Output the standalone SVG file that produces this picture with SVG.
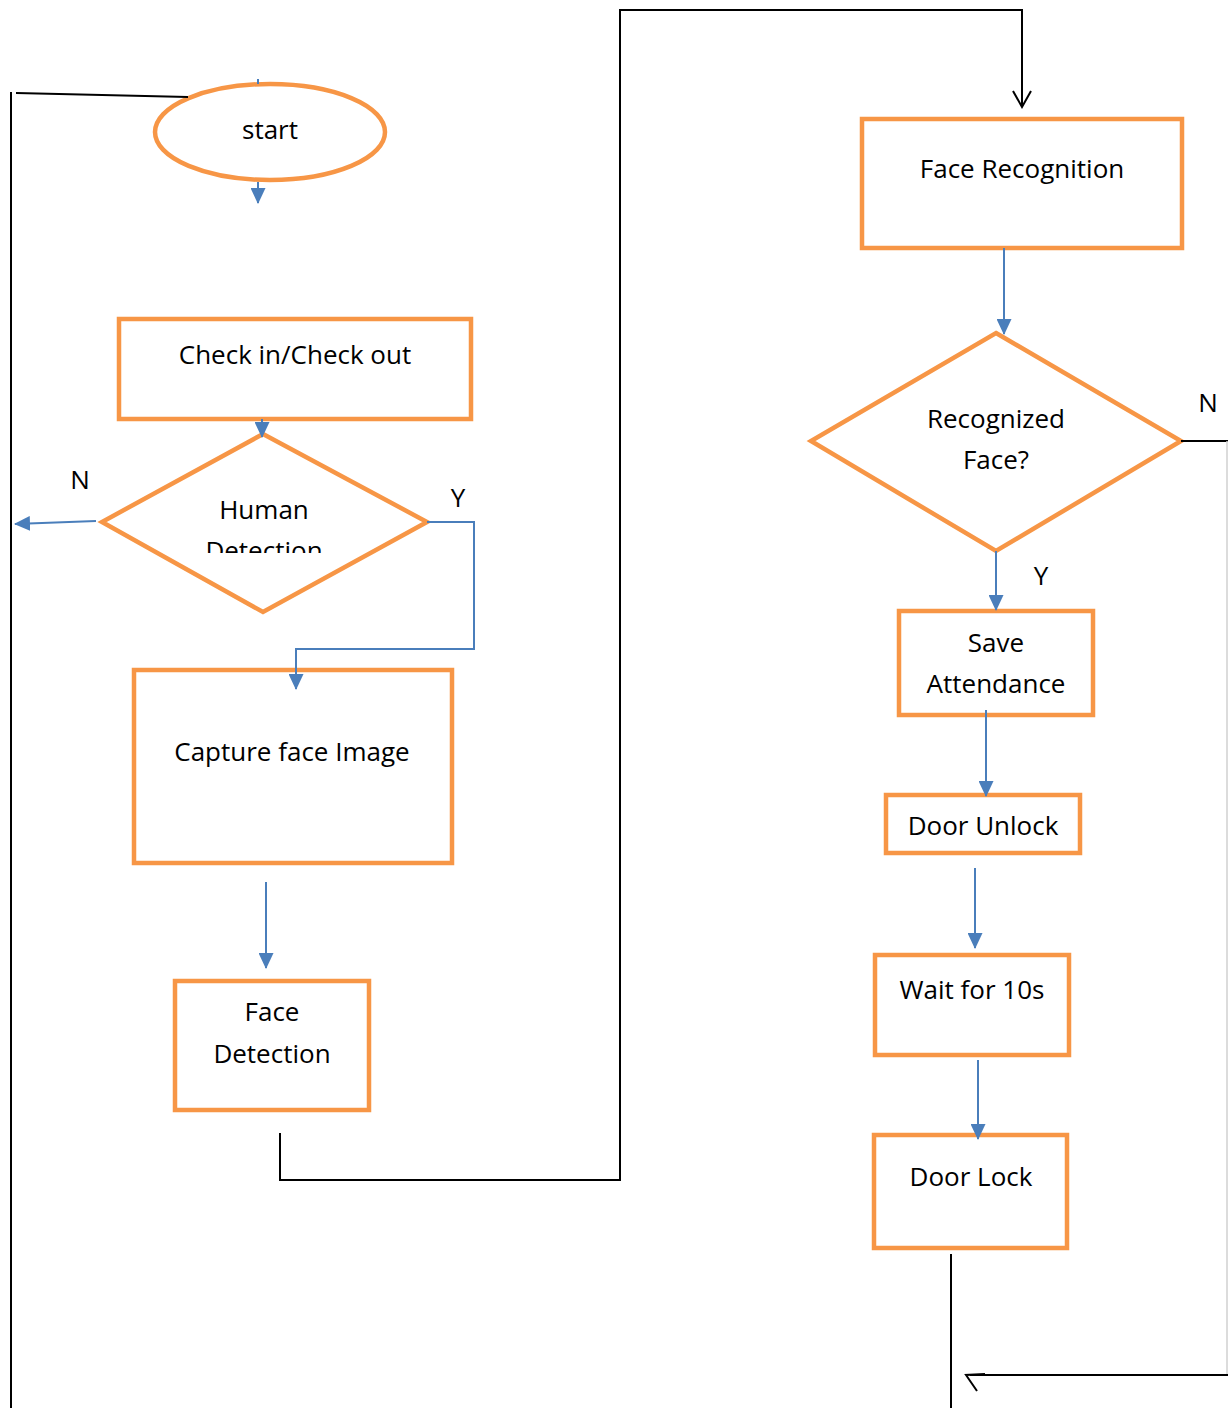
<svg xmlns="http://www.w3.org/2000/svg" width="1228" height="1408" viewBox="0 0 1228 1408">
<defs>
<style>
.box{fill:#fff;stroke:#F79646;stroke-width:4.5}
.t{font-family:"Open Sans","Noto Sans",sans-serif;font-size:26px;fill:#000;text-anchor:middle;dominant-baseline:central}
.blue{stroke:#4A7EBB;stroke-width:2;fill:none}
.blk{stroke:#000;stroke-width:2;fill:none}
</style>
<marker id="ab" markerWidth="16" markerHeight="15" refX="15" refY="7.5" orient="auto" markerUnits="userSpaceOnUse" viewBox="0 0 16 15">
<path d="M0,0 L16,7.5 L0,15 Z" fill="#4A7EBB"/>
</marker>
<marker id="ao" markerWidth="20" markerHeight="20" refX="18" refY="10" orient="auto" markerUnits="userSpaceOnUse" viewBox="0 0 20 20">
<path d="M2,1 L18,10 L2,19" fill="none" stroke="#000" stroke-width="2"/>
</marker>
<clipPath id="hdclip"><rect x="100" y="430" width="330" height="123"/></clipPath>
</defs>

<g id="start">
<ellipse class="box" cx="270" cy="132" rx="115" ry="48"/>
<text class="t" x="270" y="129">start</text>
</g>

<g id="checkin">
<rect class="box" x="119" y="319" width="352" height="100"/>
<text class="t" x="295" y="354">Check in/Check out</text>
</g>

<g id="human">
<polygon class="box" points="263,434 427,522 263,612 102,522"/>
<g clip-path="url(#hdclip)">
<text class="t" x="264" y="509">Human</text>
<text class="t" x="264" y="550">Detection</text>
</g>
</g>

<g id="capture">
<rect class="box" x="134" y="670" width="318" height="193"/>
<text class="t" x="292" y="751">Capture face Image</text>
</g>

<g id="facedet">
<rect class="box" x="175" y="981" width="194" height="129"/>
<text class="t" x="272" y="1011">Face</text>
<text class="t" x="272" y="1053">Detection</text>
</g>

<g id="facerec">
<rect class="box" x="862" y="119" width="320" height="129"/>
<text class="t" x="1022" y="168">Face Recognition</text>
</g>

<g id="recognized">
<polygon class="box" points="996,333 1181,441 996,551 811,441"/>
<text class="t" x="996" y="418">Recognized</text>
<text class="t" x="996" y="459">Face?</text>
</g>

<g id="save">
<rect class="box" x="899" y="611" width="194" height="104"/>
<text class="t" x="996" y="642">Save</text>
<text class="t" x="996" y="683">Attendance</text>
</g>

<g id="unlock">
<rect class="box" x="886" y="795" width="194" height="58"/>
<text class="t" x="983" y="825">Door Unlock</text>
</g>

<g id="wait">
<rect class="box" x="875" y="955" width="194" height="100"/>
<text class="t" x="972" y="989">Wait for 10s</text>
</g>

<g id="lock">
<rect class="box" x="874" y="1135" width="193" height="113"/>
<text class="t" x="971" y="1176">Door Lock</text>
</g>

<g id="connectors">
<path class="blk" d="M16,93 L188,97"/>
<path class="blk" d="M11,92 L11,1408"/>
<path class="blue" d="M258,79 L258,84"/>
<path class="blue" d="M258,182 L258,203" marker-end="url(#ab)"/>
<path class="blue" d="M262,419 L262,437" marker-end="url(#ab)"/>
<path class="blue" d="M96,521 L15,524" marker-end="url(#ab)"/>
<path class="blue" d="M427,522 L474,522 L474,649 L296,649 L296,689" marker-end="url(#ab)"/>
<path class="blue" d="M266,882 L266,968" marker-end="url(#ab)"/>
<path class="blk" d="M280,1133 L280,1180 L620,1180 L620,10 L1022,10 L1022,107" marker-end="url(#ao)"/>
<path class="blue" d="M1004,248 L1004,334" marker-end="url(#ab)"/>
<path class="blk" d="M1181,441 L1228,441"/>
<path d="M1227,441 L1227,1375" stroke="#d0d0d0" stroke-width="1.5" fill="none"/>
<path class="blue" d="M996,551 L996,610" marker-end="url(#ab)"/>
<path class="blue" d="M986,710 L986,796" marker-end="url(#ab)"/>
<path class="blue" d="M975,868 L975,948" marker-end="url(#ab)"/>
<path class="blue" d="M978,1060 L978,1139" marker-end="url(#ab)"/>
<path class="blk" d="M951,1254 L951,1408"/>
<path class="blk" d="M1228,1375 L970,1375"/>
<path class="blk" d="M985,1374 L966,1375 L977,1391"/>
</g>

<g id="labels">
<text class="t" x="80" y="479">N</text>
<text class="t" x="458" y="497">Y</text>
<text class="t" x="1208" y="402">N</text>
<text class="t" x="1041" y="575">Y</text>
</g>
</svg>
